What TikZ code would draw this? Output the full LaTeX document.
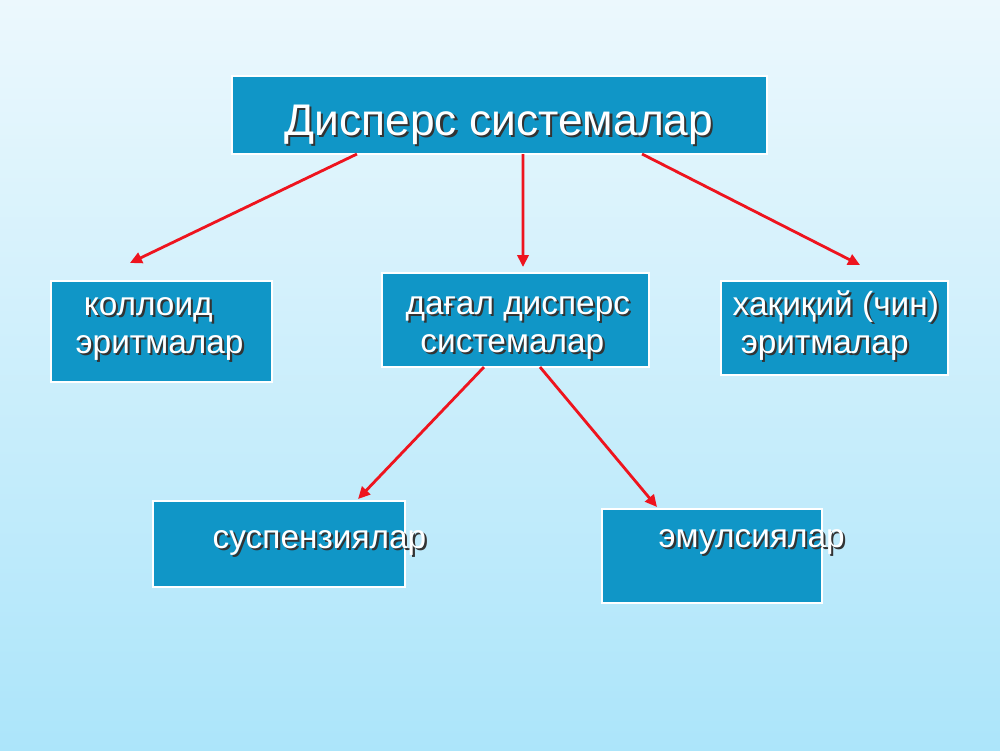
\documentclass[tikz,border=0pt]{standalone}
\usepackage{fontspec}
\setmainfont{Liberation Sans}
\usetikzlibrary{arrows.meta}
\definecolor{bgtop}{RGB}{236,248,253}
\definecolor{bgbot}{RGB}{172,229,250}
\definecolor{boxblue}{RGB}{16,150,199}
\definecolor{arrred}{RGB}{238,20,30}
\newcommand{\shtxt}[1]{\makebox[0pt][l]{\hspace{0.6pt}\raisebox{-0.6pt}{\color{black!80}#1}}#1}

\begin{document}
\begin{tikzpicture}[x=0.01cm,y=-0.01cm,
        box/.style={draw=white,line width=0.4pt,fill=boxblue,inner sep=0pt,outer sep=0pt},
        lbl/.style={anchor=base west,inner sep=0pt,text=white,align=left,font=\fontsize{9.5}{10.8}\selectfont},
        arr/.style={draw=arrred,line width=0.8pt,-{Triangle[length=3.4pt,width=3.2pt]}}]
        \shade[top color=bgtop,bottom color=bgbot] (0,0) rectangle (1000,750);
        % boxes
        \node[box,minimum width=5.35cm,minimum height=0.78cm] (title) at (499.5,115) {};
        \node[box,minimum width=2.21cm,minimum height=1.01cm] (kol) at (161.5,331.5) {};
        \node[box,minimum width=2.67cm,minimum height=0.94cm] (dag) at (515.5,320) {};
        \node[box,minimum width=2.27cm,minimum height=0.94cm] (haq) at (834.5,328) {};
        \node[box,minimum width=2.52cm,minimum height=0.86cm] (susp) at (279,544) {};
        \node[box,minimum width=2.20cm,minimum height=0.94cm] (emul) at (712,556) {};
        % texts (base = last line)
        \node[lbl,font=\fontsize{12.6}{14}\selectfont] (titletxt) at (284,135) {\shtxt{Дисперс системалар}};
        \node[lbl] (koltxt) at (75,353) {\hspace*{2.3pt}\shtxt{коллоид}\\\shtxt{эритмалар}};
        \node[lbl] (dagtxt) at (405,352) {\shtxt{дағал дисперс}\\\hspace*{4.2pt}\shtxt{системалар}};
        \node[lbl] (haqtxt) at (732,353) {\shtxt{хақиқий (чин)}\\\hspace*{2.3pt}\shtxt{эритмалар}};
        \node[lbl] (susptxt) at (212,548) {\shtxt{суспензиялар}};
        \node[lbl] (emultxt) at (658,547) {\shtxt{эмулсиялар}};
        % arrows
        \draw[arr] ([xshift=-1.425cm]title.south) -- ([xshift=-0.315cm,yshift=0.18cm]kol.north);
        \draw[arr] ([xshift=0.235cm]title.south) -- ([xshift=0.075cm,yshift=0.06cm]dag.north);
        \draw[arr] ([xshift=1.425cm]title.south) -- ([xshift=0.255cm,yshift=0.16cm]haq.north);
        \draw[arr] ([xshift=-0.315cm]dag.south) -- ([xshift=0.79cm,yshift=0.02cm]susp.north);
        \draw[arr] ([xshift=0.245cm]dag.south) -- ([xshift=-0.55cm,yshift=0.02cm]emul.north);
\end{tikzpicture}
\end{document}
